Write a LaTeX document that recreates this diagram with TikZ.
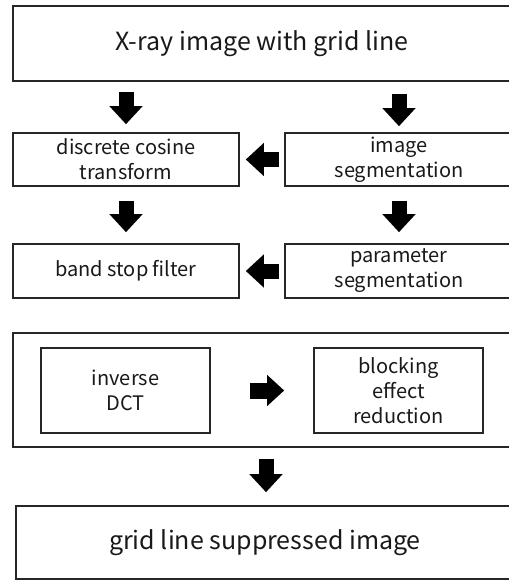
\documentclass[tikz,border=0pt]{standalone}
\usepackage{fontspec}
\setmainfont{Noto Sans CJK KR}
\usetikzlibrary{arrows.meta}
\tikzset{
  box/.style={draw=black!85, line width=1.6pt, fill=white, align=center, inner sep=0pt,
              text=black!90, font=\fontsize{20}{25}\selectfont},
  bigtext/.style={font=\fontsize{25}{30}\selectfont},
  blk/.style={line width=15pt, black, -{Triangle[length=18pt,width=32pt]}},
}
\begin{document}
\begin{tikzpicture}[x=1pt,y=-1pt]
\useasboundingbox (0,0) rectangle (508,580);
\fill[white] (0,0) rectangle (508,580);
\node[box,bigtext,minimum width=498,minimum height=75] (top) at (262,43.5) {X-ray image with grid line};
\node[box,minimum width=226,minimum height=53] (dct) at (126,159.5) {discrete cosine\\transform};
\node[box,minimum width=228,minimum height=53] (seg) at (399,159.5) {image\\segmentation};
\node[box,minimum width=226,minimum height=54] (bsf) at (126,271) {band stop filter};
\node[box,minimum width=228,minimum height=54] (par) at (399,271) {parameter\\segmentation};
\node[box,minimum width=506,minimum height=114] (grp) at (266,390) {};
\node[box,minimum width=169,minimum height=85] (idct) at (125.5,390.5) {inverse\\DCT};
\node[box,minimum width=169,minimum height=85] (blr) at (398.5,390.5) {blocking\\effect\\reduction};
\node[box,bigtext,minimum width=498,minimum height=73] (out) at (265,542.5) {grid line suppressed image};
% arrows
\draw[blk,shorten <=10pt,shorten >=8pt] (top.south -| dct) -- (dct);
\draw[blk,shorten <=12pt,shorten >=6pt] (top.south -| seg) -- (seg);
\draw[blk,shorten <=5pt,shorten >=6pt] (seg.west) -- (dct.east);
\draw[blk,shorten <=14pt,shorten >=11pt] (dct) -- (bsf);
\draw[blk,shorten <=14pt,shorten >=11pt] (seg) -- (par);
\draw[blk,shorten <=5pt,shorten >=6pt] (par.west) -- (bsf.east);
\draw[blk,line width=16pt,-{Triangle[length=17pt,width=30pt]},shorten <=39pt,shorten >=29pt] (idct.east) -- (blr.west);
\coordinate (ga) at (266,447);
\draw[blk,shorten <=12pt,shorten >=13pt] (ga) -- (ga |- out.north);
\end{tikzpicture}
\end{document}
